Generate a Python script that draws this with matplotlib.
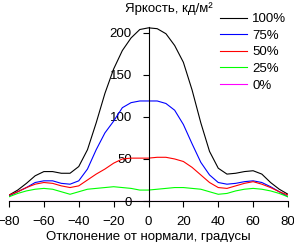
import matplotlib
matplotlib.use('Agg')
import matplotlib.pyplot as plt

plt.rcParams['font.family'] = ['Liberation Sans', 'DejaVu Sans']

angles = list(range(-80, 81, 5))
lum_100 = [7, 13, 21, 30, 35, 35, 33, 33, 41, 61, 93, 128, 157, 179, 194, 204, 206,
           205, 199, 185, 165, 132, 93, 59, 39, 32, 33, 35, 36, 32, 22, 14, 8]
lum_75 = [6, 11, 16, 22, 24, 24, 21, 20, 24, 38, 61, 81, 95, 111, 117, 119, 119,
          119, 116, 108, 91, 68, 46, 31, 22, 20, 21, 23, 24, 22, 17, 11, 5]
lum_50 = [7, 11, 16, 20, 22, 21, 18, 16, 18, 25, 32, 38, 45, 50, 51, 51, 51,
          52, 52, 50, 47, 40, 31, 22, 16, 15, 18, 21, 23, 20, 16, 11, 7]
lum_25 = [5, 9, 12, 14, 15, 14, 11, 8, 11, 14, 15, 16, 17, 16, 15, 13, 13,
          14, 15, 16, 16, 15, 14, 11, 8, 9, 12, 14, 15, 14, 12, 9, 5]
lum_0 = [0] * len(angles)

series = [('100%', lum_100, 'black'),
          ('75%', lum_75, '#0000ff'),
          ('50%', lum_50, '#ff0000'),
          ('25%', lum_25, '#00ff00'),
          ('0%', lum_0, '#ff00ff')]

fig = plt.figure(figsize=(2.94, 2.42), dpi=100)
ax = fig.add_axes([9 / 294, 41 / 242, 279 / 294, 174 / 242])

for name, vals, col in series:
    ax.plot(angles, vals, color=col, linewidth=0.8, label=name)

ax.set_xlim(-80, 80)
ax.set_ylim(0, 207)
ax.set_xticks(range(-80, 81, 20))
ax.set_yticks([0, 50, 100, 150, 200])

ax.spines['top'].set_visible(False)
ax.spines['right'].set_visible(False)
ax.spines['left'].set_position(('data', 0))
for s in ['left', 'bottom']:
    ax.spines[s].set_linewidth(0.8)
    ax.spines[s].set_zorder(3)

ax.tick_params(axis='both', labelsize=9.5, width=0.8, length=4, pad=7)
ax.tick_params(axis='y', pad=8)

ax.set_xlabel('Отклонение от нормали, градусы', fontsize=9.5, labelpad=2)
fig.text(125 / 294, 1 - 9 / 242, 'Яркость, кд/м²', fontsize=9.5,
         ha='left', va='center')

ax.legend(loc='upper left', bbox_to_anchor=(220 / 294, 1 - 13 / 242),
          bbox_transform=fig.transFigure, frameon=False, fontsize=9.5,
          handlelength=2.05, handletextpad=0.4, labelspacing=0.33,
          borderpad=0, borderaxespad=0)

fig.savefig('out.png', dpi=100)
